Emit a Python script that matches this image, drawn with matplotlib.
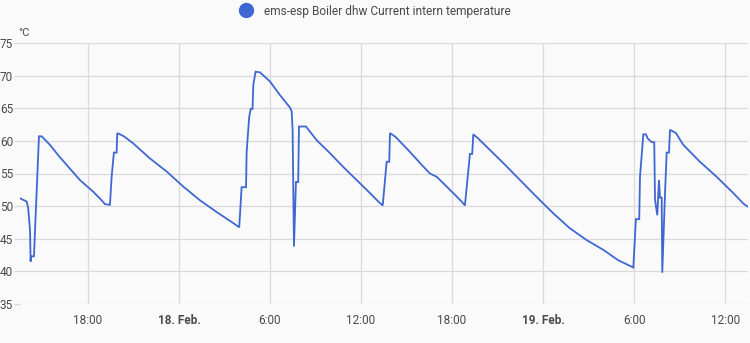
import matplotlib
matplotlib.use("Agg")
import matplotlib.pyplot as plt
from matplotlib.lines import Line2D

# hours since 17 Feb 00:00
hours = [13.52, 13.96, 14.06, 14.18, 14.22, 14.24, 14.44, 14.77, 14.95,
         15.49, 16.04, 16.60, 17.47, 18.35, 18.90, 19.12, 19.45,
         19.56, 19.71, 19.89, 19.93, 20.37,
         20.99, 22.09, 23.19, 24.28, 25.38, 26.48, 27.58, 27.97,
         28.13, 28.42, 28.46, 28.63, 28.73, 28.85, 28.90, 29.05, 29.34,
         30.00, 30.66, 31.32, 31.43, 31.49, 31.58, 31.71, 31.86, 31.91, 32.37,
         33.08, 33.96, 34.83, 35.71, 36.59, 37.14, 37.43,
         37.69, 37.86, 37.91, 38.28,
         39.23, 39.89, 40.54, 40.99, 42.08, 42.63, 42.85,
         43.18, 43.33, 43.40, 43.71,
         44.28, 45.38, 46.48, 47.58, 48.67, 49.77, 50.87, 51.97, 52.96, 53.95,
         54.12, 54.34, 54.39, 54.61, 54.78, 54.89, 55.16, 55.33, 55.38, 55.53,
         55.64, 55.71, 55.82, 55.86, 56.04, 56.15, 56.30, 56.37, 56.76,
         57.24, 58.34, 59.44, 60.54, 61.20, 61.51]
temps = [51.2, 50.7, 49.7, 46.3, 41.5, 42.3, 42.3, 60.7, 60.7,
         59.4, 57.8, 56.3, 54.0, 52.2, 50.9, 50.3, 50.2,
         54.5, 58.2, 58.2, 61.2, 60.7,
         59.6, 57.3, 55.3, 53.0, 50.9, 49.1, 47.4, 46.75,
         52.9, 52.9, 58.3, 63.7, 64.9, 64.9, 68.6, 70.6, 70.5,
         69.1, 67.0, 65.1, 64.5, 61.7, 43.8, 53.7, 53.7, 62.2, 62.2,
         60.1, 58.1, 56.0, 54.0, 52.0, 50.7, 50.1,
         56.8, 56.8, 61.2, 60.6,
         58.3, 56.6, 55.0, 54.5, 52.0, 50.7, 50.1,
         58.0, 58.0, 61.0, 60.4,
         59.1, 56.6, 54.0, 51.4, 48.9, 46.6, 44.8, 43.3, 41.7, 40.6,
         48.0, 48.0, 54.5, 61.0, 61.0, 60.4, 59.8, 59.8, 51.0, 48.6,
         54.0, 51.3, 51.3, 39.8, 52.0, 58.2, 58.2, 61.7, 61.2,
         59.4, 56.8, 54.5, 52.0, 50.4, 49.9]

x_ticks = [18, 24, 30, 36, 42, 48, 54, 60]
x_labels = ["18:00", "18. Feb.", "6:00", "12:00", "18:00", "19. Feb.", "6:00", "12:00"]
y_ticks = [35, 40, 45, 50, 55, 60, 65, 70, 75]
series_name = "ems-esp Boiler dhw Current intern temperature"
unit = "°C"

plt.rcParams['font.family'] = ['Roboto', 'DejaVu Sans']
bg = "#fafafa"
line_color = "#3f67d3"
grid_color = "#dadada"
text_color = "#4a4a4a"

fig = plt.figure(figsize=(7.5, 3.43), dpi=100, facecolor=bg)
ax = fig.add_axes([20/750, 39/343, 728/750, 261/343], facecolor=bg)

ax.plot(hours, temps, color=line_color, linewidth=1.3, solid_joinstyle='miter')

ax.set_xlim(13.52, 61.51)
ax.set_ylim(35, 75)
ax.set_xticks(x_ticks)
ax.set_xticklabels(x_labels)
for lbl in ax.get_xticklabels():
    if "Feb" in lbl.get_text():
        lbl.set_fontweight('bold')
        lbl.set_color("#222222")
ax.set_yticks(y_ticks)
ax.grid(True, color=grid_color, linewidth=0.9)
ax.set_axisbelow(True)
for s in ax.spines.values():
    s.set_visible(False)
ax.tick_params(axis='x', length=0, pad=7, labelsize=8.5, colors=text_color)
ax.tick_params(axis='y', length=4, width=0.9, color=grid_color, pad=1, labelsize=8.5, colors=text_color)
for lbl in ax.get_yticklabels():
    lbl.set_horizontalalignment('right')

fig.text(24/750, 1 - 33/343, unit, fontsize=8, color=text_color, va='center', ha='center')

handle = Line2D([], [], marker='o', linestyle='none', markersize=10,
                markerfacecolor=line_color, markeredgecolor=line_color)
fig.legend([handle], [series_name], loc='center', bbox_to_anchor=(372/750, 1 - 11/343),
           frameon=False, fontsize=8.6, handletextpad=0.5, labelcolor=text_color)

fig.savefig("out.png", dpi=100, facecolor=bg)
